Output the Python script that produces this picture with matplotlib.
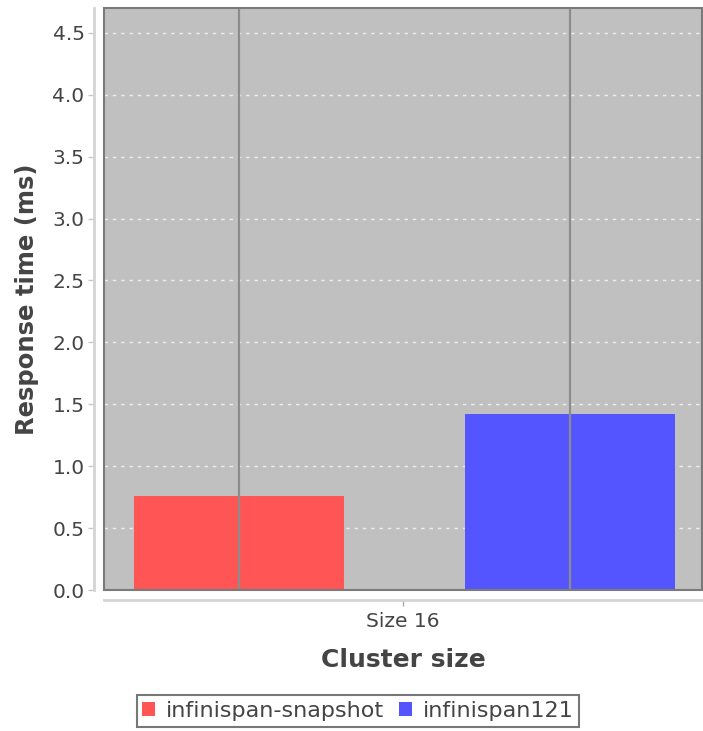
import matplotlib
matplotlib.use("Agg")
import matplotlib.pyplot as plt
from matplotlib.patches import Rectangle, Patch

# data
categories = ["Size 16"]
series_names = ["infinispan-snapshot", "infinispan121"]
series_values = [[0.76], [1.42]]
series_colors = ["#ff5555", "#5555ff"]
y_ticks = [0.0, 0.5, 1.0, 1.5, 2.0, 2.5, 3.0, 3.5, 4.0, 4.5]

W, H = 703, 731
fig = plt.figure(figsize=(W / 100.0, H / 100.0), dpi=100)
fig.patch.set_facecolor("white")
ax = fig.add_axes([104.0 / W, (H - 590.0) / H, (702.0 - 104.0) / W, (590.0 - 8.0) / H])
ax.set_facecolor("#c0c0c0")

offsets = [-0.274, 0.279]
bar_w = 0.351
for i in range(0, len(series_names)):
    for j in range(0, len(categories)):
        ax.bar(j + offsets[i], series_values[i][j], width=bar_w, color=series_colors[i],
               edgecolor="none", zorder=2)
        # dark vertical line through each bar centre
        ax.axvline(j + offsets[i], color="#8c8c8c", lw=1.6, zorder=3)

ax.set_xlim(-0.5, len(categories) - 0.5)
ax.set_ylim(0, 4.70)
ax.set_yticks(y_ticks)
ax.set_yticklabels(["%.1f" % v for v in y_ticks])
ax.set_xticks(range(len(categories)))
ax.set_xticklabels(categories)

ax.yaxis.grid(True, color="#eeeeee", linestyle=(0, (2.5, 3.5)), lw=1.0, zorder=1)
ax.set_axisbelow(True)

for s in ["top", "right"]:
    ax.spines[s].set_visible(False)
for s in ["left", "bottom"]:
    ax.spines[s].set_position(("outward", 7))
    ax.spines[s].set_color("#d4d4d4")
    ax.spines[s].set_linewidth(2.0)

# plot border
ax.add_patch(Rectangle((0, 0), 1, 1, transform=ax.transAxes, fill=False,
                       edgecolor="#7a7a7a", lw=1.5, clip_on=False, zorder=4))

ax.tick_params(axis="y", length=4, width=1, color="#c8c8c8", labelsize=14.5,
               labelcolor="#444444", pad=3)
ax.tick_params(axis="x", length=4, width=1, color="#aaaaaa", labelsize=14.5,
               labelcolor="#444444", pad=5)

ax.set_ylabel("Response time (ms)", fontsize=17.5, fontweight="bold", color="#444444", labelpad=10)
ax.set_xlabel("Cluster size", fontsize=18, fontweight="bold", color="#444444", labelpad=12)

handles = [Patch(facecolor=series_colors[i], edgecolor="none", label=series_names[i])
           for i in range(len(series_names))]
leg = fig.legend(handles=handles, loc="center", bbox_to_anchor=(358.0 / W, (H - 711.0) / H),
                 ncol=2, fontsize=16, frameon=True, fancybox=False, handlelength=0.55,
                 handleheight=0.55, handletextpad=0.5, columnspacing=0.7, borderpad=0.25,
                 borderaxespad=0)
leg.get_frame().set_edgecolor("#555555")
leg.get_frame().set_linewidth(1.5)
for t in leg.get_texts():
    t.set_color("#444444")

plt.savefig("out.png", dpi=100)
